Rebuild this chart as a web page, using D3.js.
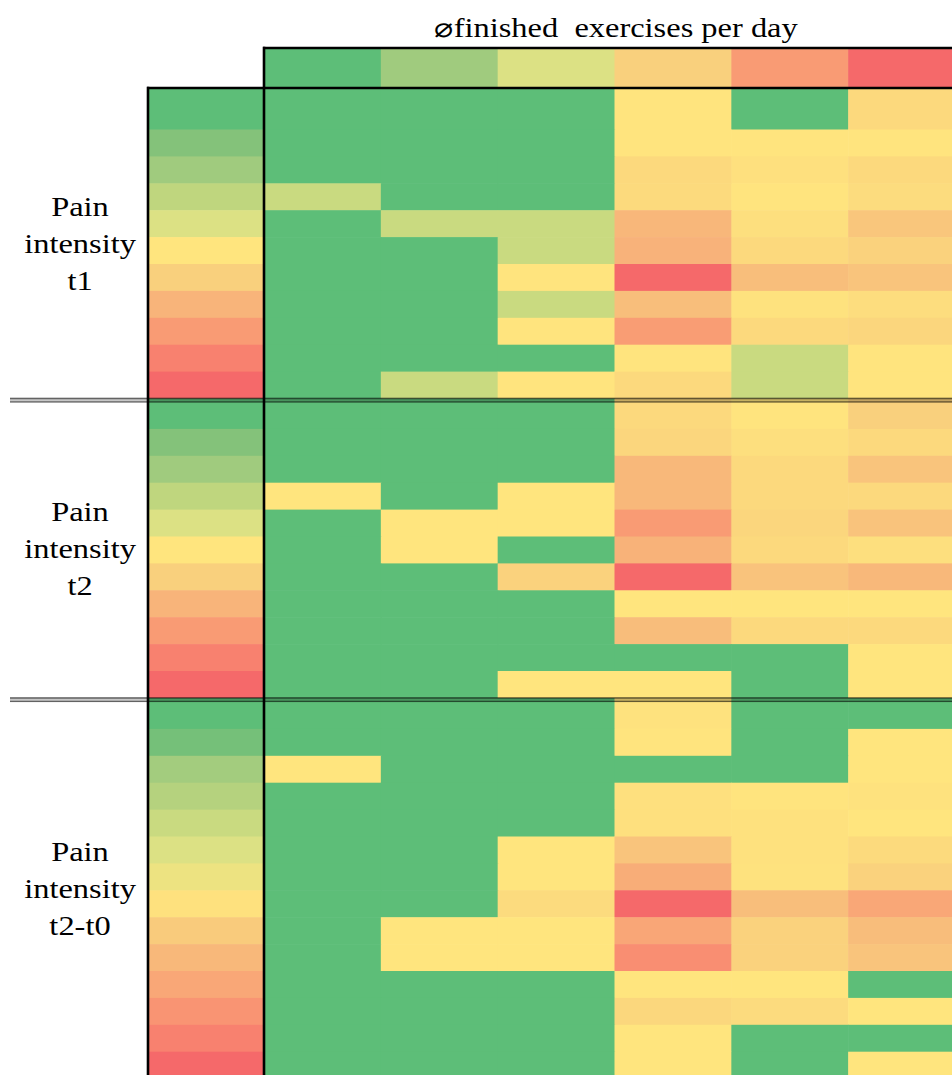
<!DOCTYPE html>
<html><head><meta charset="utf-8">
<script src="https://cdn.jsdelivr.net/npm/d3@7"></script>
<style>html,body{margin:0;padding:0;background:#fff;overflow:hidden}</style>
</head><body><svg id="c" width="952" height="1075"></svg>
<script>
// ---------- data ----------
const exerciseBins = ["bin1", "bin2", "bin3", "bin4", "bin5", "bin6"];
const headerValues = [0, 0.2, 0.4, 0.6, 0.8, 1];
const sectionNames = ["t1", "t2", "t2-t0"];
const legendT1 = [0, 0.1, 0.2, 0.3, 0.4, 0.5, 0.6, 0.7, 0.8, 0.9, 1];
const legendT2 = [0, 0.1, 0.2, 0.3, 0.4, 0.5, 0.6, 0.7, 0.8, 0.9, 1];
const legendDelta = [0, 0.062, 0.21, 0.268, 0.334, 0.4, 0.449, 0.519, 0.618, 0.686, 0.752, 0.827, 0.9, 1];
const valuesT1 = [
  [0, 0, 0, 0.505, 0, 0.557],
  [0, 0, 0, 0.505, 0.505, 0.505],
  [0, 0, 0, 0.557, 0.524, 0.557],
  [0.334, 0, 0, 0.552, 0.505, 0.543],
  [0, 0.334, 0.334, 0.69, 0.53, 0.636],
  [0, 0, 0.334, 0.708, 0.557, 0.59],
  [0, 0, 0.505, 1, 0.663, 0.643],
  [0, 0, 0.334, 0.663, 0.514, 0.54],
  [0, 0, 0.505, 0.792, 0.557, 0.573],
  [0, 0, 0, 0.505, 0.334, 0.505],
  [0, 0.334, 0.505, 0.557, 0.334, 0.505]
];
const valuesT2 = [
  [0, 0, 0, 0.557, 0.505, 0.6],
  [0, 0, 0, 0.573, 0.53, 0.557],
  [0, 0, 0, 0.684, 0.557, 0.643],
  [0.5, 0, 0.5, 0.684, 0.557, 0.557],
  [0, 0.5, 0.5, 0.8, 0.573, 0.648],
  [0, 0.5, 0, 0.71, 0.557, 0.53],
  [0, 0, 0.59, 1, 0.648, 0.684],
  [0, 0, 0, 0.5, 0.5, 0.5],
  [0, 0, 0, 0.668, 0.557, 0.557],
  [0, 0, 0, 0, 0, 0.5],
  [0, 0, 0.5, 0.5, 0, 0.5]
];
const valuesDelta = [
  [0, 0, 0, 0.514, 0, 0],
  [0, 0, 0, 0.505, 0, 0.5],
  [0.5, 0, 0, 0, 0, 0.5],
  [0, 0, 0, 0.524, 0.505, 0.514],
  [0, 0, 0, 0.524, 0.519, 0.5],
  [0, 0, 0.5, 0.643, 0.519, 0.552],
  [0, 0, 0.5, 0.728, 0.514, 0.59],
  [0, 0, 0.55, 1, 0.663, 0.752],
  [0, 0.5, 0.5, 0.756, 0.59, 0.668],
  [0, 0.5, 0.5, 0.85, 0.59, 0.643],
  [0, 0, 0, 0.5, 0.5, 0],
  [0, 0, 0, 0.567, 0.548, 0.5],
  [0, 0, 0, 0.5, 0, 0],
  [0, 0, 0, 0.5, 0, 0.5]
];

// ---------- layout ----------
const svg = d3.select("#c");
const gridLeft = 264, gridRight = 965, legendLeft = 148;
const headerTop = 48, headerBottom = 88;
const rowH = 26.9;
const stops = ["#5DBE78", "#84C27A", "#A0CB7E", "#BFD67E", "#DCE184", "#FFE57E",
               "#F9D07D", "#F8B47A", "#F99B74", "#F8816F", "#F5696A"];
const color = d3.scaleLinear().domain(d3.range(11).map(d => d / 10)).range(stops).interpolate(d3.interpolateRgb);

const x = d3.scaleBand().domain(exerciseBins).range([gridLeft, gridRight]).padding(0);

const sections = [
  { name: sectionNames[0], values: valuesT1, legend: legendT1, bottom: 398.5, firstTop: headerBottom },
  { name: sectionNames[1], values: valuesT2, legend: legendT2, top: 402, firstTop: 398.5 },
  { name: sectionNames[2], values: valuesDelta, legend: legendDelta, top: 702, firstTop: 698 }
];

sections.forEach(s => {
  const n = s.values.length;
  const r0 = s.top !== undefined ? s.top : s.bottom - n * rowH;
  s.y = d3.scaleLinear().domain([0, n]).range([r0, r0 + n * rowH]);
  s.rows = s.values.map((row, i) => ({ i, row, legend: s.legend[i],
    y0: i === 0 ? s.firstTop : s.y(i), y1: s.y(i + 1) }));
});

// header
svg.append("g").selectAll("rect").data(headerValues).join("rect")
  .attr("x", (d, i) => x(exerciseBins[i]))
  .attr("width", x.bandwidth() + 0.6)
  .attr("y", headerTop).attr("height", headerBottom - headerTop)
  .attr("fill", d => color(d));

// cells and legend
sections.forEach(s => {
  const g = svg.append("g");
  const rows = g.selectAll("g").data(s.rows).join("g");
  rows.selectAll("rect.cell").data(r => r.row.map((v, j) => ({ v, j, r }))).join("rect")
    .attr("class", "cell")
    .attr("x", d => x(exerciseBins[d.j]))
    .attr("width", x.bandwidth() + 0.6)
    .attr("y", d => d.r.y0)
    .attr("height", d => d.r.y1 - d.r.y0 + 0.6)
    .attr("fill", d => color(d.v));
  rows.append("rect")
    .attr("x", legendLeft).attr("width", gridLeft - legendLeft)
    .attr("y", r => r.y0).attr("height", r => r.y1 - r.y0 + 0.6)
    .attr("fill", r => color(r.legend));
});

// separators
[[398.5, 401.9], [698, 701.4]].forEach(([a, b]) => {
  svg.append("rect").attr("x", 10).attr("width", 942).attr("y", a - 0.8).attr("height", b - a + 1.6)
    .attr("fill", "rgba(0,0,0,0.22)");
  [a, b].forEach(yy => svg.append("line").attr("x1", 10).attr("x2", 952)
    .attr("y1", yy).attr("y2", yy).attr("stroke", "rgba(0,0,0,0.5)").attr("stroke-width", 1.4));
});

// borders
const bk = (x1, y1, x2, y2) => svg.append("line").attr("x1", x1).attr("y1", y1).attr("x2", x2).attr("y2", y2)
  .attr("stroke", "#000").attr("stroke-width", 2.6);
bk(263, headerTop, 952, headerTop);
bk(147, headerBottom, 952, headerBottom);
bk(264, headerTop - 1.3, 264, 1075);
bk(148, headerBottom - 1.3, 148, 1075);

// title
const sx = 1.18;
svg.append("text")
  .attr("transform", `translate(616,37) scale(${sx},1)`)
  .attr("text-anchor", "middle")
  .style("font-family", "'Liberation Serif', 'DejaVu Serif', serif")
  .style("font-size", "27.5px").style("white-space", "pre").attr("fill", "#000")
  .text("\u2300finished  exercises per day");

// section labels
sections.forEach(s => {
  const top = s.rows[0].y0, bot = s.rows[s.rows.length - 1].y1;
  const mid = Math.min((top + bot) / 2, 890);
  const t = svg.append("text")
    .attr("transform", `translate(80,${mid + 10}) scale(${sx},1)`)
    .attr("text-anchor", "middle")
    .style("font-family", "'Liberation Serif', serif").style("font-size", "27.5px").attr("fill", "#000");
  ["Pain", "intensity", s.name].forEach((w, k) =>
    t.append("tspan").attr("x", 0).attr("y", (k - 1) * 37).text(w));
});
</script></body></html>
